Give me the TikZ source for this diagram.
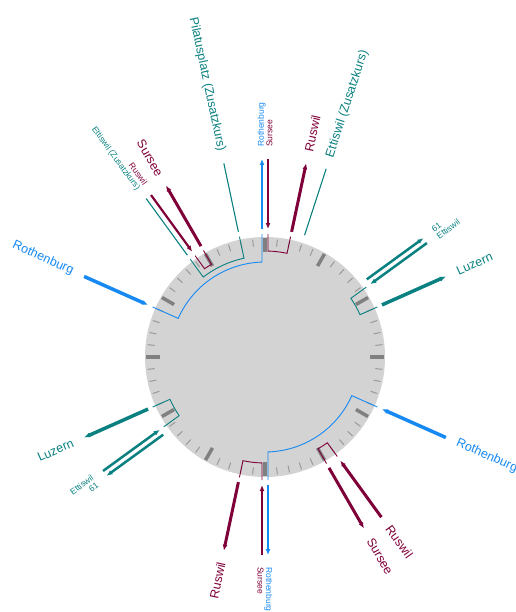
\documentclass[tikz,border=0pt]{standalone}
\usepackage{fontspec}
\setmainfont{Liberation Sans}
\usetikzlibrary{arrows.meta,calc}
\definecolor{cblue}{HTML}{1689F2}
\definecolor{cmar}{HTML}{7F0038}
\definecolor{cteal}{HTML}{0A8080}
\definecolor{cface}{HTML}{D3D3D3}
\definecolor{cmin}{HTML}{9A9A9A}
\definecolor{chour}{HTML}{808080}
\newcommand\busevt[3]{%
  \coordinate (#1-i) at ($(C)+({90-(#2)}:128)+({0-(#2)}:#3)$);
  \coordinate (#1-o) at ($(C)+({90-(#2)}:198)+({0-(#2)}:#3)$);
  \coordinate (#1-b) at ($(C)+({90-(#2)}:123)+({0-(#2)}:#3)$);
}
\newcommand\bracketc[6]{%
  \draw[brline,#1] (#2-b) -- ($(C)+({90-(#3)}:#6)$)
     arc[start angle={90-(#3)}, end angle={90-(#5)}, radius=#6] -- (#4-b);
}
\begin{document}
\begin{tikzpicture}[x=1pt,y=1pt,
  big/.style={font=\fontsize{12.5}{14}\selectfont, inner sep=0pt},
  small/.style={font=\fontsize{8.5}{8.5}\selectfont, inner sep=0pt},
  outA/.style={line width=#1,-{Latex[length=6pt,width=5pt]}},
  inA/.style={line width=#1,{Latex[length=6pt,width=5pt]}-},
  thinl/.style={line width=1.1pt},
  brline/.style={line width=0.9pt}]
\useasboundingbox (0,0) rectangle (515,-612);
\coordinate (C) at (265,-357);
\fill[cface] (C) circle (120);
\foreach \m in {0,...,59}{
  \pgfmathtruncatemacro\rr{mod(\m,5)}
  \ifnum\rr=0
    \draw[chour,line width=3.5pt] ($(C)+({90-6*\m}:105)$) -- ($(C)+({90-6*\m}:119)$);
  \else
    \draw[cmin,line width=1pt] ($(C)+({90-6*\m}:111)$) -- ($(C)+({90-6*\m}:118)$);
  \fi
}
% events
\busevt{rO0}{0}{-3}
\busevt{sI0}{0}{3}
\busevt{uO2}{12}{0}
\busevt{eZ3}{18}{0}
\busevt{pO58}{-12}{0}
\busevt{sO55}{-30}{0}
\busevt{uI54}{-36}{3}
\busevt{eZI54}{-36}{-3}
\busevt{rI49}{-66}{0}
\busevt{lO9}{54}{-3}
\busevt{eI9}{54}{3}
\busevt{zO11}{66}{0}
\busevt{rO30}{180}{-3}
\busevt{sI30}{180}{3}
\busevt{uO32}{192}{0}
\busevt{sO25}{150}{0}
\busevt{uI24}{144}{0}
\busevt{rI19}{114}{0}
\busevt{lO39}{234}{-3}
\busevt{eI39}{234}{3}
\busevt{zO41}{246}{0}
% brackets
\bracketc{cblue}{rI49}{-66}{rO0}{-1.8}{95}
\bracketc{cmar}{sI0}{1.6}{uO2}{12}{106}
\bracketc{cmar}{uI54}{-34.4}{sO55}{-30}{107}
\bracketc{cteal}{eZI54}{-37.7}{pO58}{-12}{101}
\bracketc{cteal}{eI9}{55.65}{zO11}{66}{104}
\bracketc{cblue}{rI19}{114}{rO30}{178.2}{95}
\bracketc{cmar}{sI30}{181.6}{uO32}{192}{106}
\bracketc{cmar}{uI24}{144}{sO25}{150}{106}
\bracketc{cteal}{eI39}{235.65}{zO41}{246}{104}
% arrows top half
\draw[outA=2.5pt,cblue] (rO0-i) -- (rO0-o);
\draw[inA=2.5pt,cmar] (sI0-i) -- (sI0-o);
\draw[outA=3pt,cmar] (uO2-i) -- (uO2-o);
\draw[thinl,cteal] (eZ3-i) -- (eZ3-o);
\draw[thinl,cteal] (pO58-i) -- (pO58-o);
\draw[outA=3pt,cmar] (sO55-i) -- (sO55-o);
\draw[inA=2.2pt,cmar] (uI54-i) -- (uI54-o);
\draw[thinl,cteal] (eZI54-i) -- (eZI54-o);
\draw[inA=3.5pt,cblue] (rI49-i) -- (rI49-o);
\draw[outA=2.5pt,cteal] (lO9-i) -- (lO9-o);
\draw[inA=2.5pt,cteal] (eI9-i) -- (eI9-o);
\draw[outA=3.5pt,cteal] (zO11-i) -- (zO11-o);
% arrows bottom half
\draw[outA=2.5pt,cblue] (rO30-i) -- (rO30-o);
\draw[inA=2.5pt,cmar] (sI30-i) -- (sI30-o);
\draw[outA=3pt,cmar] (uO32-i) -- (uO32-o);
\draw[outA=3pt,cmar] (sO25-i) -- (sO25-o);
\draw[inA=3pt,cmar] (uI24-i) -- (uI24-o);
\draw[inA=3.5pt,cblue] (rI19-i) -- (rI19-o);
\draw[outA=2.5pt,cteal] (lO39-i) -- (lO39-o);
\draw[inA=2.5pt,cteal] (eI39-i) -- (eI39-o);
\draw[outA=3.5pt,cteal] (zO41-i) -- (zO41-o);
% labels top half
\node[small,align=left,rotate=90,anchor=west] (L0) at ($(C)+(90:210)$) {\textcolor{cblue}{Rothenburg}\\\textcolor{cmar}{Sursee}};
\node[big,cmar,rotate=78,anchor=west] (L2) at ($(C)+(78:210)$) {Ruswil};
\node[big,cteal,rotate=72,anchor=west] (L3) at ($(C)+(72:210)$) {Ettiswil (Zusatzkurs)};
\node[big,cteal,rotate=-78,anchor=east] (L58) at ($(C)+(102:210)$) {Pilatusplatz (Zusatzkurs)};
\node[big,cmar,rotate=-60,anchor=east] (L55) at ($(C)+(120:210)$) {Sursee};
\node[small,align=right,rotate=-54,anchor=east] (L54) at ($(C)+(126:210)$) {\textcolor{cmar}{Ruswil}\\\textcolor{cteal}{Ettiswil (Zusatzkurs)}};
\node[big,cblue,rotate=-24,anchor=east] (L49) at ($(C)+(156:210)$) {Rothenburg};
\node[small,cteal,align=left,rotate=36,anchor=west] (L9) at ($(C)+(36:210)$) {61\\Ettiswil};
\node[big,cteal,rotate=24,anchor=west] (L11) at ($(C)+(24:210)$) {Luzern};
% labels bottom half
\node[small,align=left,rotate=-90,anchor=west] (L30) at ($(C)+(-90:210)$) {\textcolor{cblue}{Rothenburg}\\\textcolor{cmar}{Sursee}};
\node[big,cmar,rotate=78,anchor=east] (L32) at ($(C)+(-102:210)$) {Ruswil};
\node[big,cmar,rotate=-60,anchor=west] (L25) at ($(C)+(-60:210)$) {Sursee};
\node[big,cmar,rotate=-54,anchor=west] (L24) at ($(C)+(-54:210)$) {Ruswil};
\node[big,cblue,rotate=-24,anchor=west] (L19) at ($(C)+(-24:210)$) {Rothenburg};
\node[small,cteal,align=right,rotate=36,anchor=east] (L39) at ($(C)+(-144:210)$) {Ettiswil\\61};
\node[big,cteal,rotate=24,anchor=east] (L41) at ($(C)+(-156:210)$) {Luzern};
\end{tikzpicture}
\end{document}
